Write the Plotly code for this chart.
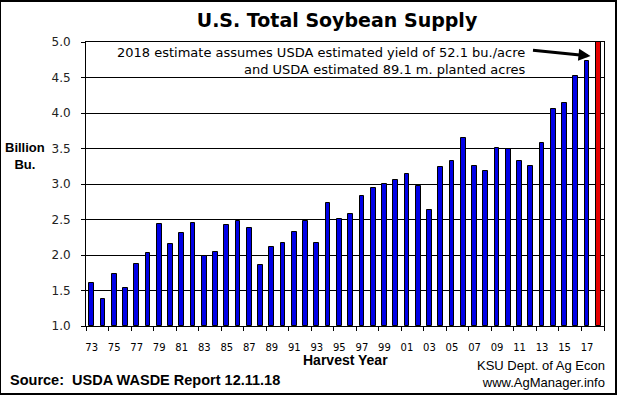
import plotly.graph_objects as go

years = list(range(1973, 2019))
supply = [1.61, 1.38, 1.73, 1.53, 1.87, 2.03, 2.44, 2.15, 2.31, 2.45,
          1.99, 2.04, 2.42, 2.48, 2.38, 1.86, 2.11, 2.17, 2.32, 2.48,
          2.17, 2.73, 2.51, 2.58, 2.83, 2.94, 3.00, 3.06, 3.14, 2.97,
          2.63, 3.24, 3.32, 3.65, 3.25, 3.18, 3.51, 3.50, 3.32, 3.25,
          3.58, 4.06, 4.14, 4.52, 4.73, 5.03]
tick_years = list(range(1973, 2018, 2))
tick_labels = [str(y)[-2:] for y in tick_years]
boundary_ticks = [1972.5 + 2 * k for k in range(24)]
y_ticks = [1.0, 1.5, 2.0, 2.5, 3.0, 3.5, 4.0, 4.5, 5.0]

colors = ["#0000E6"] * (len(years) - 1) + ["#E60000"]

fig = go.Figure()
fig.add_trace(go.Bar(
    x=years, y=[v - 1.0 for v in supply], base=1.0,
    width=0.42,
    marker=dict(color=colors, line=dict(color="black", width=1)),
    cliponaxis=False,
    hoverinfo="skip",
))

fig.update_layout(
    width=617, height=395,
    margin=dict(l=86, r=13, t=42, b=69),
    paper_bgcolor="white", plot_bgcolor="white",
    showlegend=False,
    bargap=0,
    title=dict(text="<b>U.S. Total Soybean Supply</b>", x=337 / 617, xanchor="center",
               y=1 - 20 / 395, yanchor="middle",
               font=dict(family="DejaVu Sans", size=19, color="black")),
    xaxis=dict(
        range=[1972.5, 2018.5], tickmode="array", tickvals=tick_years, ticktext=tick_labels,
        ticks="", showgrid=False, zeroline=False, ticklabelstandoff=12,
        showline=True, linecolor="black", linewidth=1, mirror=True,
        tickfont=dict(family="DejaVu Sans", size=10, color="black"),
        minor=dict(tickvals=boundary_ticks, ticks="outside", ticklen=4, tickcolor="black", showgrid=False),
    ),
    yaxis=dict(
        range=[1.0, 5.0], tickmode="array", tickvals=y_ticks, ticktext=[f"{v:.1f}" for v in y_ticks],
        ticks="outside", ticklen=4, tickcolor="black", ticklabelstandoff=8,
        showgrid=True, gridcolor="black", gridwidth=1, zeroline=False,
        showline=True, linecolor="black", linewidth=1, mirror=True,
        tickfont=dict(family="DejaVu Sans", size=12, color="#222222"),
    ),
)

fig.add_annotation(
    xref="paper", yref="paper", x=(527 - 86) / 518, y=(326 - 61) / 284,
    text="2018 estimate assumes USDA estimated yield of 52.1 bu./acre<br>and USDA estimated 89.1 m. planted acres",
    showarrow=False, align="right", xanchor="right", yanchor="middle",
    font=dict(family="DejaVu Sans", size=13, color="black"),
)
# pointer arrow toward the 2018 bar
fig.add_annotation(
    xref="x", yref="y", x=2017.3, y=5.0 - (56 - 42) / 71,
    ax=-59, ay=-6, axref="pixel", ayref="pixel",
    showarrow=True, arrowhead=2, arrowsize=0.8, arrowwidth=3, arrowcolor="black", text="",
)
fig.add_annotation(xref="paper", yref="paper", x=-61 / 518, y=(326 - 156) / 284,
                   text="<b>Billion<br>Bu.</b>", showarrow=False, xanchor="center", yanchor="middle",
                   font=dict(family="Liberation Sans", size=13, color="black"))
fig.add_annotation(xref="paper", yref="paper", x=(345 - 86) / 518, y=-(360 - 326) / 284,
                   text="<b>Harvest Year</b>", showarrow=False, xanchor="center", yanchor="middle",
                   font=dict(family="Liberation Sans", size=14, color="black"))
fig.add_annotation(xref="paper", yref="paper", x=-(86 - 8) / 518, y=-(380 - 326) / 284,
                   text="<b>Source:  USDA WASDE Report 12.11.18</b>", showarrow=False,
                   xanchor="left", yanchor="middle",
                   font=dict(family="Liberation Sans", size=14.5, color="black"))
fig.add_annotation(xref="paper", yref="paper", x=(607 - 86) / 518, y=-(374 - 326) / 284,
                   text="KSU Dept. of Ag Econ<br>www.AgManager.info", showarrow=False,
                   xanchor="right", yanchor="middle", align="right",
                   font=dict(family="Liberation Sans", size=13, color="black"))

fig.add_shape(type="rect", xref="paper", yref="paper",
              x0=-86 / 518, x1=(617 - 86 - 1) / 518, y0=-(395 - 326 - 1) / 284, y1=(326 - 1) / 284,
              line=dict(color="black", width=2), layer="above")

fig.write_html("out.html", config={"displayModeBar": False},
               post_script="document.body.style.margin='0';")
